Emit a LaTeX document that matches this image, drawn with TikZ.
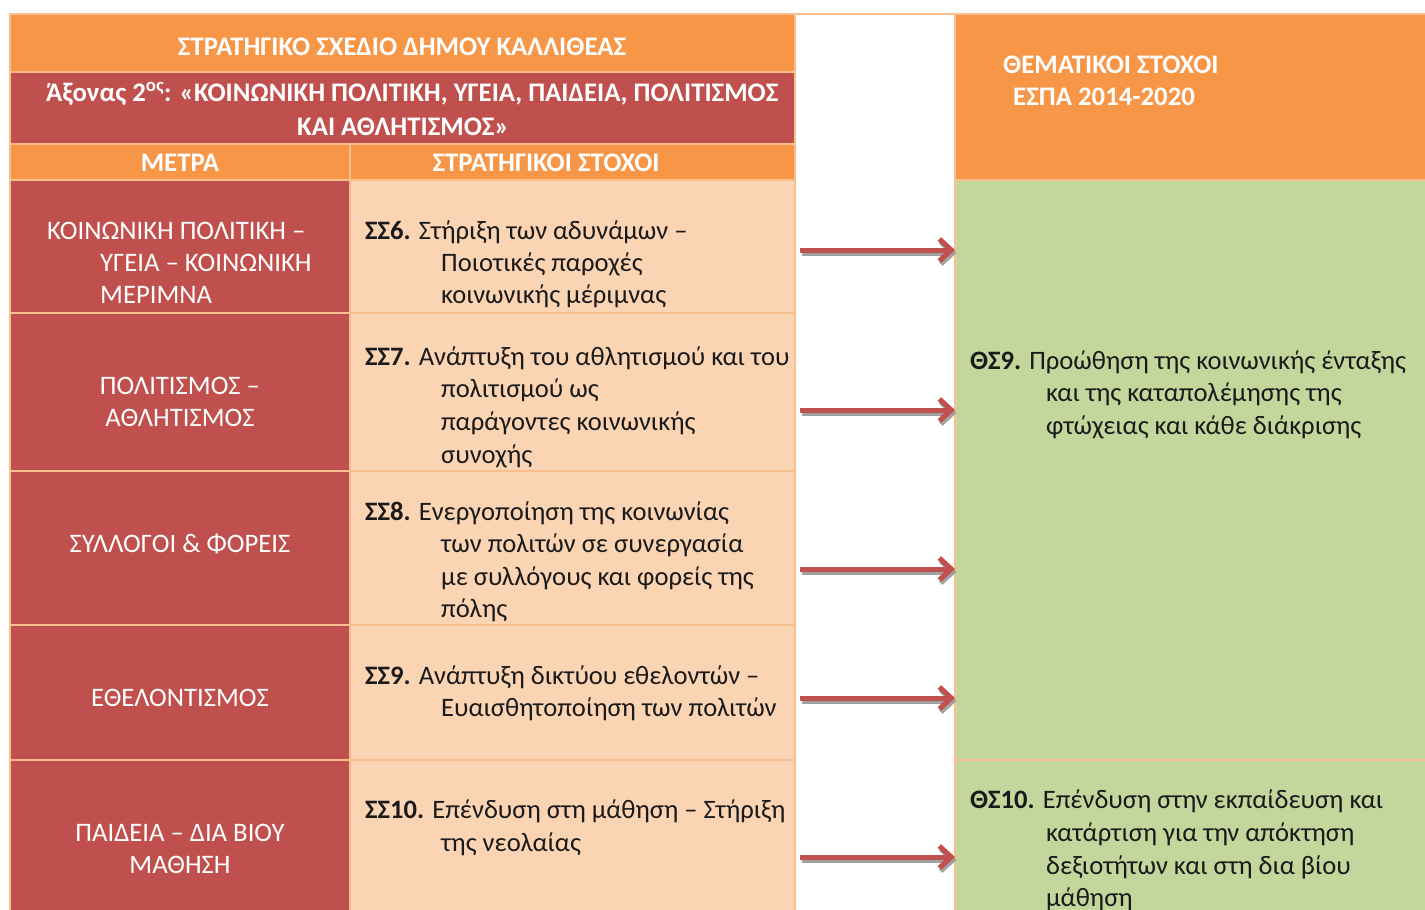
\documentclass[tikz,border=0pt]{standalone}
\usepackage{fontspec}
\setmainfont{Carlito}
\usetikzlibrary{arrows.meta}
\definecolor{cOrange}{HTML}{F79646}
\definecolor{cRed}{HTML}{C0504D}
\definecolor{cPeach}{HTML}{FBD4B4}
\definecolor{cGreen}{HTML}{C3D69B}
\definecolor{cBorder}{HTML}{FABF8F}
\definecolor{cShadow}{HTML}{A0A0A0}
\definecolor{cText}{HTML}{1A1A1A}
\begin{document}
\begin{tikzpicture}[x=1pt,y=-1pt,
  cell/.style={draw=cBorder, line width=2pt, inner sep=0pt, outer sep=0pt, anchor=north west},
  wtxt/.style={text=white, font=\fontsize{26.7}{32}\selectfont, inner sep=0pt, anchor=base west},
  wtxtc/.style={wtxt, anchor=base},
  btxt/.style={text=cText, font=\fontsize{26.6}{32}\selectfont, inner sep=0pt, anchor=base west},
  htxt/.style={text=white, font=\fontsize{26.8}{32}\selectfont\bfseries, inner sep=0pt, anchor=base},
  arrmain/.style={draw=cRed, line width=5pt, -{Straight Barb[length=12pt,width=22pt]}},
  arrshade/.style={draw=cShadow, line width=5pt, -{Straight Barb[length=12pt,width=22pt]}, transform canvas={xshift=1.5pt, yshift=-3pt}}
]
\useasboundingbox (0,0) rectangle (1425,910);
\clip (0,0) rectangle (1425,910);
\fill[white] (0,0) rectangle (1425,910);

% left table
\node[cell, fill=cOrange, minimum width=785pt, minimum height=58pt] (h1) at (10,14) {};
\node[cell, fill=cRed, minimum width=785pt, minimum height=72pt] (h2) at (10,72) {};
\node[cell, fill=cOrange, minimum width=340pt, minimum height=36pt] (h3a) at (10,144) {};
\node[cell, fill=cOrange, minimum width=445pt, minimum height=36pt] (h3b) at (350,144) {};

\node[cell, fill=cRed, minimum width=340pt, minimum height=133pt] (m1) at (10,180) {};
\node[cell, fill=cPeach, minimum width=445pt, minimum height=133pt] (g1) at (350,180) {};
\node[cell, fill=cRed, minimum width=340pt, minimum height=158pt] (m2) at (10,313) {};
\node[cell, fill=cPeach, minimum width=445pt, minimum height=158pt] (g2) at (350,313) {};
\node[cell, fill=cRed, minimum width=340pt, minimum height=154pt] (m3) at (10,471) {};
\node[cell, fill=cPeach, minimum width=445pt, minimum height=154pt] (g3) at (350,471) {};
\node[cell, fill=cRed, minimum width=340pt, minimum height=135pt] (m4) at (10,625) {};
\node[cell, fill=cPeach, minimum width=445pt, minimum height=135pt] (g4) at (350,625) {};
\node[cell, fill=cRed, minimum width=340pt, minimum height=170pt] (m5) at (10,760) {};
\node[cell, fill=cPeach, minimum width=445pt, minimum height=170pt] (g5) at (350,760) {};

% right table
\node[cell, fill=cOrange, minimum width=480pt, minimum height=166pt] (th) at (955,14) {};
\node[cell, fill=cGreen, minimum width=480pt, minimum height=580pt] (t9) at (955,180) {};
\node[cell, fill=cGreen, minimum width=480pt, minimum height=170pt] (t10) at (955,760) {};

\draw[cBorder, line width=2pt] (10,14) -- (1425,14);

% headers
\node[htxt] (ht1) at (402,55) {ΣΤΡΑΤΗΓΙΚΟ ΣΧΕΔΙΟ ΔΗΜΟΥ ΚΑΛΛΙΘΕΑΣ};
\node[htxt, anchor=base west] (ht2) at (46,101) {Άξονας 2\textsuperscript{ος}: «ΚΟΙΝΩΝΙΚΗ ΠΟΛΙΤΙΚΗ, ΥΓΕΙΑ, ΠΑΙΔΕΙΑ, ΠΟΛΙΤΙΣΜΟΣ};
\node[htxt] (ht3) at (403,135) {ΚΑΙ ΑΘΛΗΤΙΣΜΟΣ»};
\node[htxt] (ht4) at (180,171) {ΜΕΤΡΑ};
\node[htxt] (ht5) at (546,171) {ΣΤΡΑΤΗΓΙΚΟΙ ΣΤΟΧΟΙ};
\node[htxt, anchor=base west] (ht6) at (1003,73) {ΘΕΜΑΤΙΚΟΙ ΣΤΟΧΟΙ};
\node[htxt, anchor=base west] (ht7) at (1013,105) {ΕΣΠΑ 2014-2020};

% measures
\node[wtxt] (l1a) at (47,239) {ΚΟΙΝΩΝΙΚΗ ΠΟΛΙΤΙΚΗ –};
\node[wtxt] (l1b) at (100,271) {ΥΓΕΙΑ – ΚΟΙΝΩΝΙΚΗ};
\node[wtxt] (l1c) at (100,303) {ΜΕΡΙΜΝΑ};
\node[wtxtc] (l2a) at (180,394) {ΠΟΛΙΤΙΣΜΟΣ –};
\node[wtxtc] (l2b) at (180,426) {ΑΘΛΗΤΙΣΜΟΣ};
\node[wtxtc] (l3a) at (180,552) {ΣΥΛΛΟΓΟΙ \& ΦΟΡΕΙΣ};
\node[wtxtc] (l4a) at (180,706) {ΕΘΕΛΟΝΤΙΣΜΟΣ};
\node[wtxtc] (l5a) at (180,841) {ΠΑΙΔΕΙΑ – ΔΙΑ ΒΙΟΥ};
\node[wtxtc] (l5b) at (180,873) {ΜΑΘΗΣΗ};

% strategic goals
\node[btxt] (s1a) at (365,239) {\textbf{ΣΣ6.} Στήριξη των αδυνάμων –};
\node[btxt] (s1b) at (441,271) {Ποιοτικές παροχές};
\node[btxt] (s1c) at (441,303) {κοινωνικής μέριμνας};
\node[btxt] (s2a) at (365,365) {\textbf{ΣΣ7.} Ανάπτυξη του αθλητισμού και του};
\node[btxt] (s2b) at (441,397) {πολιτισμού ως};
\node[btxt] (s2c) at (441,430) {παράγοντες κοινωνικής};
\node[btxt] (s2d) at (441,463) {συνοχής};
\node[btxt] (s3a) at (365,520) {\textbf{ΣΣ8.} Ενεργοποίηση της κοινωνίας};
\node[btxt] (s3b) at (441,552) {των πολιτών σε συνεργασία};
\node[btxt] (s3c) at (441,585) {με συλλόγους και φορείς της};
\node[btxt] (s3d) at (441,617) {πόλης};
\node[btxt] (s4a) at (365,684) {\textbf{ΣΣ9.} Ανάπτυξη δικτύου εθελοντών –};
\node[btxt] (s4b) at (441,716) {Ευαισθητοποίηση των πολιτών};
\node[btxt] (s5a) at (365,818) {\textbf{ΣΣ10.} Επένδυση στη μάθηση – Στήριξη};
\node[btxt] (s5b) at (441,851) {της νεολαίας};

% thematic goals
\node[btxt] (t9a) at (970,369) {\textbf{ΘΣ9.} Προώθηση της κοινωνικής ένταξης};
\node[btxt] (t9b) at (1046,401) {και της καταπολέμησης της};
\node[btxt] (t9c) at (1046,434) {φτώχειας και κάθε διάκρισης};
\node[btxt] (t10a) at (970,808) {\textbf{ΘΣ10.} Επένδυση στην εκπαίδευση και};
\node[btxt] (t10b) at (1046,841) {κατάρτιση για την απόκτηση};
\node[btxt] (t10c) at (1046,874) {δεξιοτήτων και στη δια βίου};
\node[btxt] (t10d) at (1046,906) {μάθηση};

% arrows
\foreach \i/\yy in {1/250,2/410,3/569,4/698,5/857}{
  \coordinate (a\i) at (800,\yy);
  \draw[arrshade] (a\i) -- (a\i -| th.west);
  \draw[arrmain] (a\i) -- (a\i -| th.west);
}
\end{tikzpicture}
\end{document}
